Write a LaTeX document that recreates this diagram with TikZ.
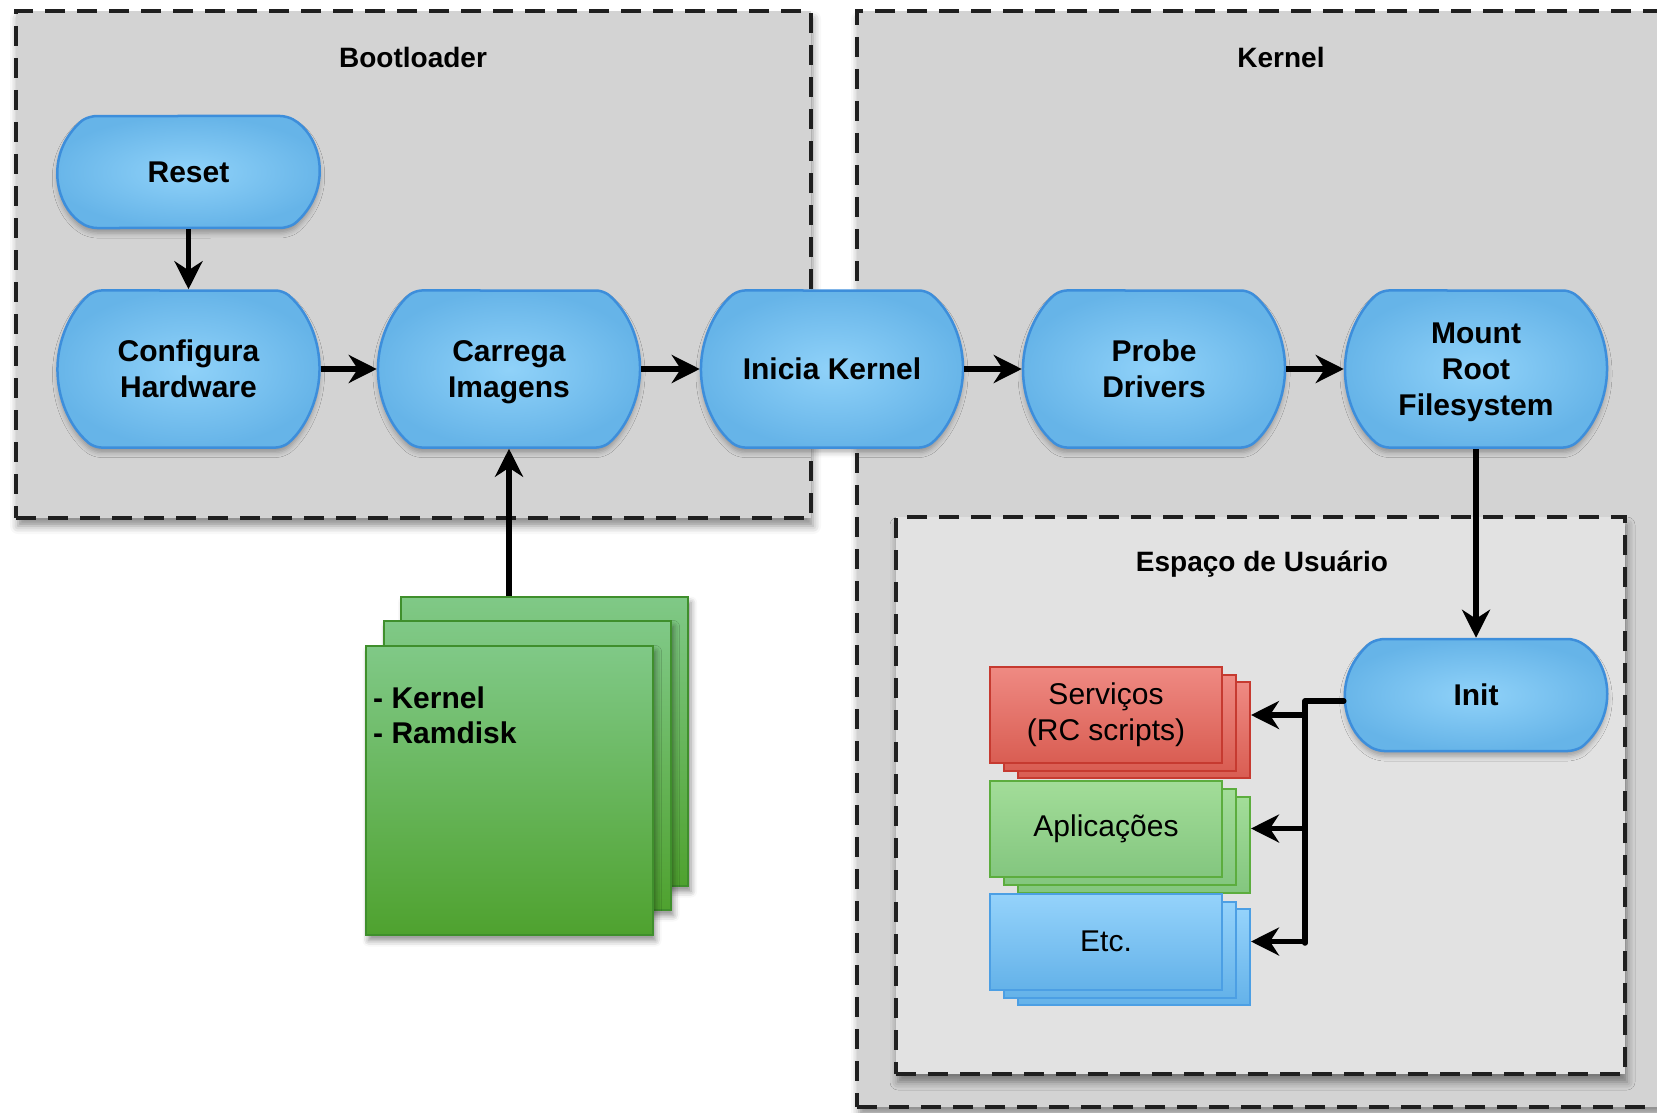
\documentclass[tikz,border=0pt]{standalone}
\usepackage{fontspec}
\setmainfont{Liberation Sans}
\usetikzlibrary{shapes.misc,arrows.meta,shadows.blur}
\definecolor{boxgray}{HTML}{D3D3D3}
\definecolor{usergray}{HTML}{E2E2E2}
\definecolor{bluein}{HTML}{90D2F9}
\definecolor{blueout}{HTML}{66B4E8}
\definecolor{blueline}{HTML}{3D8EDB}
\definecolor{gtop}{HTML}{80C987}
\definecolor{gbot}{HTML}{4FA22F}
\definecolor{gline}{HTML}{3F8F2C}
\definecolor{rtop}{HTML}{EF8A83}
\definecolor{rbot}{HTML}{D95D52}
\definecolor{rline}{HTML}{C63A30}
\definecolor{ltop}{HTML}{A3DD99}
\definecolor{lbot}{HTML}{83C67F}
\definecolor{lline}{HTML}{5CAD3E}
\definecolor{etop}{HTML}{95D3FB}
\definecolor{ebot}{HTML}{64B2E9}
\definecolor{eline}{HTML}{4C9FE4}
\begin{document}
\begin{tikzpicture}[x=1pt,y=-1pt,
  region/.style={rectangle, draw=black!88, line width=4pt, dash pattern=on 20pt off 12pt,
    fill=boxgray, inner sep=0pt, outer sep=0pt,
    blur shadow={shadow xshift=2pt, shadow yshift=-8pt, shadow blur radius=8pt, shadow opacity=45}},
  title/.style={font=\fontsize{28}{34}\selectfont\bfseries, inner sep=0pt},
  flow/.style={rounded rectangle, rounded rectangle arc length=100, rounded corners=7pt,
    minimum width=262pt, minimum height=157pt, inner sep=0pt, text depth=0pt,
    draw=blueline, line width=2.5pt, inner color=bluein, outer color=blueout,
    align=center, font=\fontsize{30}{36}\selectfont\bfseries,
    blur shadow={shadow xshift=0pt, shadow yshift=-5pt, shadow blur radius=5pt, shadow opacity=30}},
  flowlow/.style={flow, minimum height=112pt, rounded rectangle arc length=120},
  imgcard/.style={rectangle, draw=gline, line width=2pt, top color=gtop, bottom color=gbot,
    minimum width=287pt, minimum height=289pt, inner sep=0pt,
    blur shadow={shadow xshift=3pt, shadow yshift=-6pt, shadow blur radius=6pt, shadow opacity=45}},
  card/.style={rectangle, line width=2pt, minimum width=232pt, minimum height=96pt,
    inner sep=0pt, align=center, font=\fontsize{30}{36}\selectfont},
  redcard/.style={card, draw=rline, top color=rtop, bottom color=rbot},
  greencard/.style={card, draw=lline, top color=ltop, bottom color=lbot},
  bluecard/.style={card, draw=eline, top color=etop, bottom color=ebot},
  arr/.style={line width=5.5pt, draw=black, -{Stealth[length=28pt,width=28pt,inset=9pt]}},
  wire/.style={line width=5.5pt, draw=black}
]
\useasboundingbox (0,0) rectangle (1657,1113);

% regions
\node[region, minimum width=795pt, minimum height=507pt] (boot) at (413.5,264.5) {};
\node[region, minimum width=815pt, minimum height=1096pt] (kern) at (1264.5,559) {};
\node[region, fill=usergray, minimum width=729pt, minimum height=557pt] (user) at (1260.5,795.5) {};

\node[title] (tboot) at (413,57) {Bootloader};
\node[title] (tkern) at (1281,57) {Kernel};
\node[title] (tuser) at (1262,564) {Espaço de Usuário};

% image stack
\node[imgcard] (img3) at (544.5,741) {};
\node[imgcard] (img2) at (527,765) {};
\node[imgcard] (img1) at (509,790) {};
\node[anchor=north west, align=left, inner sep=0pt,
  font=\fontsize{30}{35}\selectfont\bfseries] (imgtxt) at (373,687) {- Kernel\\- Ramdisk};

% flow nodes
\node[flowlow] (reset) at (188.5,172) {Reset};
\node[flow] (config) at (188.5,369) {Configura\\Hardware};
\node[flow] (carrega) at (509,369) {Carrega\\Imagens};
\node[flow] (inicia) at (832,369) {Inicia Kernel};
\node[flow] (probe) at (1154,369) {Probe\\Drivers};
\node[flow] (mount) at (1476,369) {Mount\\Root\\Filesystem};
\node[flowlow] (init) at (1476,695) {Init};

% user-space stacks
\node[redcard] (srv3) at (1134,730) {};
\node[redcard] (srv2) at (1120,723) {};
\node[redcard] (srv1) at (1106,715) {Serviços\\(RC scripts)};
\node[greencard] (app3) at (1134,844.5) {};
\node[greencard] (app2) at (1120,836.5) {};
\node[greencard] (app1) at (1106,828.5) {Aplicações};
\node[bluecard] (etc3) at (1134,957) {};
\node[bluecard] (etc2) at (1120,949.5) {};
\node[bluecard] (etc1) at (1106,941.5) {Etc.};

% connectors
\draw[arr] (reset.south) -- (config.north);
\draw[arr] (config.east) -- (carrega.west);
\draw[arr] (carrega.east) -- (inicia.west);
\draw[arr] (inicia.east) -- (probe.west);
\draw[arr] (probe.east) -- (mount.west);
\draw[arr] (carrega.south |- img3.north) -- (carrega.south);
\draw[arr] (mount.south) -- (init.north);

\coordinate (ttop) at (1305,701);
\coordinate (tbot) at (1305,943);
\draw[wire, line cap=round, line join=round] ([yshift=-6pt]init.west) -- (ttop) -- (tbot);
\draw[arr] (srv1 -| ttop) -- (srv1 -| srv3.east);
\draw[arr] (app1 -| ttop) -- (app1 -| app3.east);
\draw[arr] (etc1 -| ttop) -- (etc1 -| etc3.east);
\end{tikzpicture}
\end{document}
